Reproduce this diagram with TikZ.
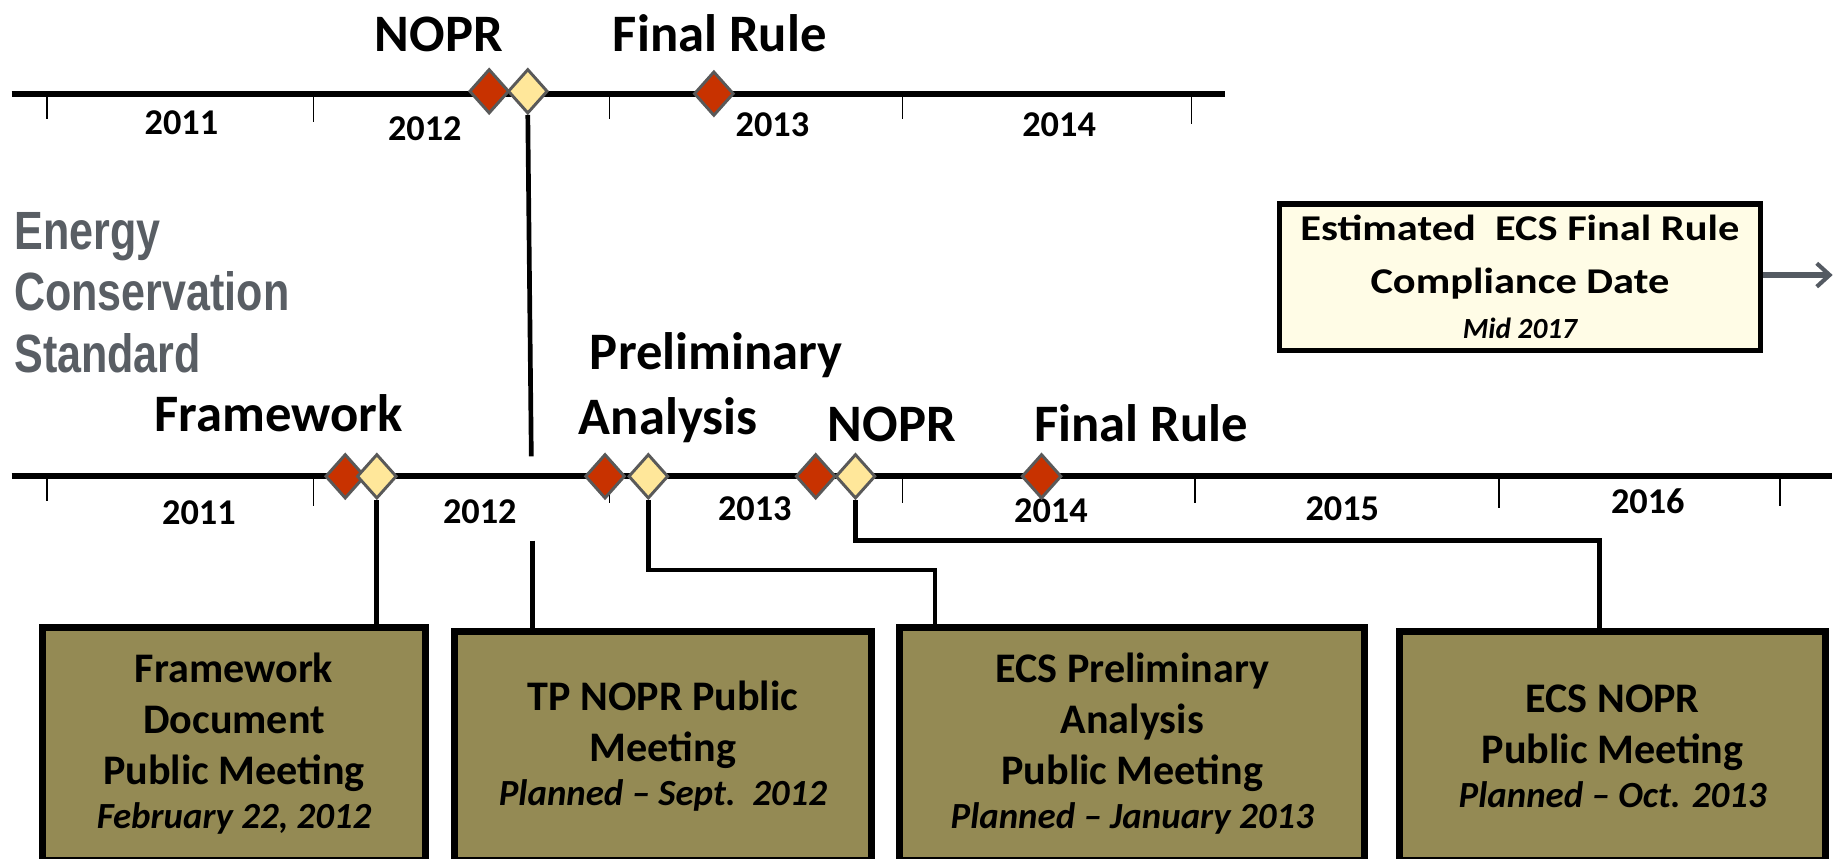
\documentclass[tikz,border=0pt]{standalone}
\usepackage{fontspec}
\setmainfont{Carlito}
\newfontfamily\narrowfont[FakeStretch=0.8]{Liberation Sans}
\newfontfamily\widefont[FakeStretch=1.17]{Carlito}
\usetikzlibrary{shapes.geometric,arrows.meta}
\definecolor{ddred}{RGB}{200,50,0}
\definecolor{ddyel}{RGB}{255,231,154}
\definecolor{ddbor}{RGB}{89,89,89}
\definecolor{olive}{RGB}{148,138,84}
\definecolor{cream}{RGB}{255,252,230}
\definecolor{graytxt}{RGB}{89,94,100}
\definecolor{arrgray}{RGB}{84,90,98}
\tikzset{
  tline/.style={line width=5pt,black},
  tick/.style={line width=1.3pt,black},
  conn/.style={line width=4pt,black},
  dmd/.style={diamond,draw=ddbor,line width=2.5pt,minimum width=34pt,minimum height=38pt,inner sep=0pt},
  rdmd/.style={dmd,fill=ddred},
  ydmd/.style={dmd,fill=ddyel},
  biglbl/.style={font=\bfseries\fontsize{45}{50}\selectfont,inner sep=0pt,anchor=base},
  year/.style={font=\bfseries\fontsize{31}{34}\selectfont,inner sep=0pt},
  gbox/.style={draw=black,line width=6pt,fill=olive,anchor=north west,inner sep=0pt,align=center,font=\bfseries\fontsize{36}{43.5}\selectfont},
  itl/.style={font=\bfseries\itshape\fontsize{31.5}{36}\selectfont},
  ebox/.style={draw=black,line width=4.5pt,fill=cream,anchor=north west,inner sep=0pt,align=center,font=\widefont\bfseries\fontsize{31}{45}\selectfont},
  gtxt/.style={font=\narrowfont\bfseries\fontsize{46}{53}\selectfont,text=graytxt,inner sep=0pt,anchor=base west}
}
\newcommand{\itline}[1]{{\normalfont\bfseries\itshape\fontsize{31.5}{36}\selectfont #1}}
\begin{document}
\begin{tikzpicture}[x=1pt,y=-1pt]
\useasboundingbox (0,0) rectangle (1568,734);
% top timeline
\coordinate (tl0) at (10,80);
\coordinate (tl1) at (1047,80);
\draw[tline] (tl0) -- (tl1);
\foreach \x/\yy in {40/102,268/104,521/102,771/102,1018/106}{
  \draw[tick] (\x,80) -- (\x,\yy);
}
\node[year] (ty11) at (155,105) {2011};
\node[year] (ty12) at (363,110) {2012};
\node[year] (ty13) at (660,107) {2013};
\node[year] (ty14) at (905,107) {2014};
\node[biglbl] (tnopr) at (375,44) {NOPR};
\node[biglbl] (tfinal) at (615,44) {Final Rule};
% bottom timeline
\coordinate (bl0) at (10,407);
\coordinate (bl1) at (1565,407);
\draw[tline] (bl0) -- (bl1);
\foreach \x/\yy in {40/428,268/432,521/430,771/430,1021/430,1281/434,1521/432}{
  \draw[tick] (\x,407) -- (\x,\yy);
}
\node[year] (by11) at (170,438) {2011};
\node[year] (by12) at (410,437) {2012};
\node[year] (by13) at (645,435) {2013};
\node[year] (by14) at (898,436) {2014};
\node[year] (by15) at (1147,435) {2015};
\node[year] (by16) at (1408,428) {2016};
\node[biglbl] (bfw) at (238,369) {Framework};
\node[biglbl] (bpre) at (612,316) {Preliminary};
\node[biglbl] (bana) at (571,371) {Analysis};
\node[biglbl] (bnopr) at (762,377) {NOPR};
\node[biglbl] (bfinal) at (975,377) {Final Rule};
% gray title
\node[gtxt] (g1) at (12,213) {Energy};
\node[gtxt] (g2) at (12,265) {Conservation};
\node[gtxt] (g3) at (12,318) {Standard};
% boxes
\node[gbox,minimum width=328pt,minimum height=199pt] (b1) at (33,533)
  {Framework\\Document\\Public Meeting\\[-6pt]\itline{February 22, 2012}};
\node[gbox,minimum width=357pt,minimum height=195pt] (b2) at (385,537)
  {TP NOPR Public\\Meeting\\[-6pt]\itline{Planned -- Sept.\ \ 2012}};
\node[gbox,minimum width=397pt,minimum height=199pt] (b3) at (766,533)
  {ECS Preliminary\\Analysis\\Public Meeting\\[-6pt]\itline{Planned -- January 2013}};
\node[gbox,minimum width=364pt,minimum height=195pt] (b4) at (1193,537)
  {ECS NOPR\\Public Meeting\\[-6pt]\itline{Planned -- Oct. 2013}};
\node[ebox,minimum width=411pt,minimum height=125pt] (est) at (1091,172)
  {Estimated\ \ ECS Final Rule\\Compliance Date\\[-6pt]{\normalfont\bfseries\itshape\fontsize{25}{30}\selectfont Mid 2017}};
\coordinate (arrend) at (1566,235);
\draw[line width=4.5pt,arrgray,-{Straight Barb[length=11pt,width=20pt,line width=3.5pt]}] (est.east |- arrend) -- (arrend);
% diamonds top
\node[rdmd] (tr1) at (418,78) {};
\node[ydmd] (ty1) at (451,78) {};
\node[rdmd] (tr2) at (610,80) {};
% diamonds bottom
\node[rdmd] (br1) at (295,407) {};
\node[ydmd] (by1) at (322,407) {};
\node[rdmd] (br2) at (517,407) {};
\node[ydmd] (by2) at (554,407) {};
\node[rdmd] (br3) at (697,407) {};
\node[ydmd] (by3) at (731,407) {};
\node[rdmd] (br4) at (890,407) {};
% connectors
\coordinate (gapA) at (454,390);
\coordinate (gapB) at (455,462);
\draw[conn] (ty1.south) -- (gapA);
\draw[conn] (gapB) -- (gapB |- b2.north);
\draw[conn] (by1.south) -- (by1.south |- b1.north);
\coordinate (k2) at (799,487);
\draw[conn] (by2.south) -- (by2.south |- k2) -- (k2) -- (k2 |- b3.north);
\coordinate (k3) at (1367,462);
\draw[conn] (by3.south) -- (by3.south |- k3) -- (k3) -- (k3 |- b4.north);
\end{tikzpicture}
\end{document}
